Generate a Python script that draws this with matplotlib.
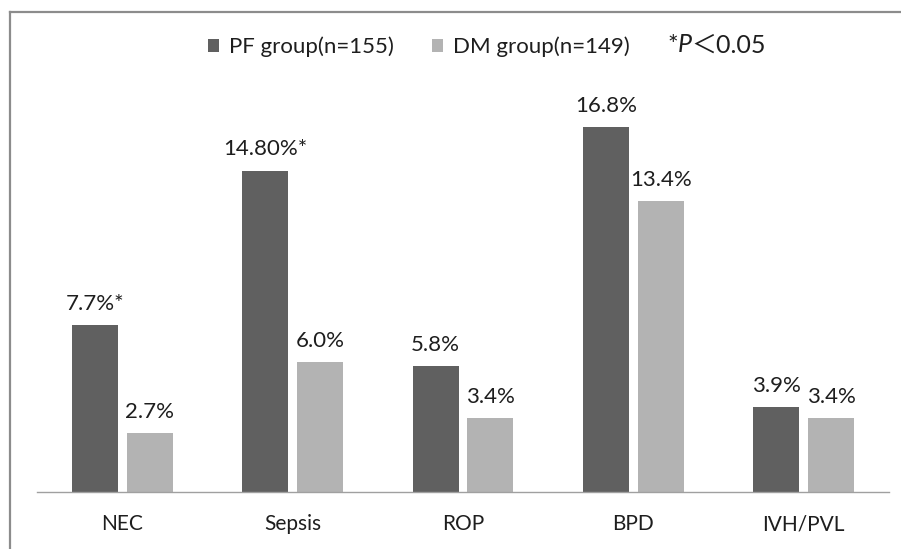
import numpy as np
import matplotlib.pyplot as plt
from matplotlib.lines import Line2D

categories = ["NEC", "Sepsis", "ROP", "BPD", "IVH/PVL"]
pf_values = [7.7, 14.8, 5.8, 16.8, 3.9]
dm_values = [2.7, 6.0, 3.4, 13.4, 3.4]
pf_labels = ["7.7%*", "14.80%*", "5.8%", "16.8%", "3.9%"]
dm_labels = ["2.7%", "6.0%", "3.4%", "13.4%", "3.4%"]
series_names = ["PF group(n=155)", "DM group(n=149)"]

plt.rcParams['font.family'] = ['Lato', 'Noto Sans CJK SC', 'DejaVu Sans']
text_color = "#1e1e1e"
dark = "#606060"
light = "#b3b3b3"

fig = plt.figure(figsize=(9.01, 5.49), dpi=100)
ax = fig.add_axes([37 / 901, 57 / 549, 852 / 901, 391 / 549])

x = np.arange(len(categories))
width = 0.27
offset = 0.161
bars_pf = ax.bar(x - offset, pf_values, width, color=dark, label=series_names[0])
bars_dm = ax.bar(x + offset, dm_values, width, color=light, label=series_names[1])

ax.bar_label(bars_pf, labels=pf_labels, padding=8, fontsize=16, color=text_color)
ax.bar_label(bars_dm, labels=dm_labels, padding=8, fontsize=16, color=text_color)

ax.set_xlim(-0.5, len(categories) - 0.5)
ax.set_ylim(0, 18)
ax.set_xticks(x)
ax.set_xticklabels(categories, fontsize=15, color=text_color)
ax.tick_params(axis='x', length=0, pad=16)
ax.set_yticks([])
for side in ["top", "right", "left"]:
    ax.spines[side].set_visible(False)
ax.spines["bottom"].set_color("#a0a0a0")
ax.spines["bottom"].set_linewidth(1.0)

fig.legend(handles=[bars_pf, bars_dm], loc="center left",
           bbox_to_anchor=(208 / 901, 1 - 47 / 549), ncol=2, frameon=False,
           fontsize=16, handlelength=0.5, handleheight=0.5,
           handletextpad=0.45, columnspacing=1.7, borderpad=0, borderaxespad=0,
           labelcolor=text_color)

# significance note: *P<0.05 with italic P, pieces chained left to right
star = fig.text(667 / 901, 1 - 45 / 549, "*", fontsize=18, color=text_color, va="center")
p_txt = fig.text(0, 0, "P", fontsize=18, style="italic", color=text_color)
p_txt.remove()
p_txt = plt.annotate("P", xy=(1, 0), xycoords=star, va="bottom", ha="left",
                     fontsize=18, style="italic", color=text_color, annotation_clip=False)
plt.annotate("＜0.05", xy=(1, 0), xycoords=p_txt, va="bottom", ha="left",
             fontsize=18, color=text_color, annotation_clip=False)

# outer frame (left and top edges only)
frame_color = "#8c8c8c"
fig.add_artist(Line2D([9.5 / 901, 9.5 / 901], [0, 1 - 11.5 / 549], color=frame_color, lw=1.6,
                      transform=fig.transFigure))
fig.add_artist(Line2D([9.5 / 901, 1], [1 - 11.5 / 549, 1 - 11.5 / 549], color=frame_color, lw=1.6,
                      transform=fig.transFigure, solid_capstyle="projecting"))

fig.savefig("out.png", dpi=100)
